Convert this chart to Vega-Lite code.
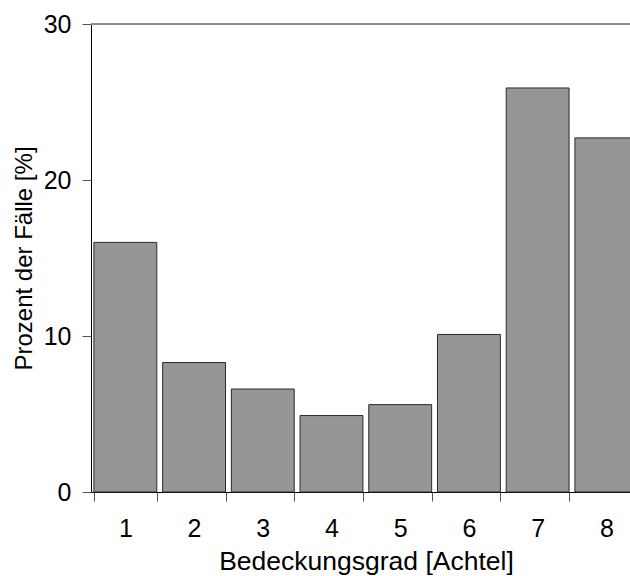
{
  "$schema": "https://vega.github.io/schema/vega-lite/v6.json",
  "width": 539,
  "height": 468,
  "autosize": "none",
  "padding": {"left": 91, "top": 24, "right": 0, "bottom": 84},
  "config": {
    "view": {"stroke": null},
    "font": "Liberation Sans",
    "axis": {
      "labelFont": "Liberation Sans",
      "titleFont": "Liberation Sans",
      "labelColor": "#000",
      "titleColor": "#000",
      "titleFontWeight": "normal",
      "labelFontSize": 25,
      "titleFontSize": 24,
      "domainColor": "#000",
      "tickColor": "#555",
      "tickSize": 9,
      "grid": false
    }
  },
  "data": {
    "values": [
      {"achtel": "1", "prozent": 16.0},
      {"achtel": "2", "prozent": 8.3},
      {"achtel": "3", "prozent": 6.6},
      {"achtel": "4", "prozent": 4.9},
      {"achtel": "5", "prozent": 5.6},
      {"achtel": "6", "prozent": 10.1},
      {"achtel": "7", "prozent": 25.9},
      {"achtel": "8", "prozent": 22.7}
    ]
  },
  "layer": [
    {
      "mark": {"type": "bar", "fill": "#969696", "stroke": "#2a2a2a", "strokeWidth": 1},
      "encoding": {
        "x": {
          "field": "achtel",
          "type": "ordinal",
          "scale": {"type": "band", "range": [0, 549.7], "paddingInner": 0.085, "paddingOuter": 0.0425},
          "axis": {
            "title": "Bedeckungsgrad [Achtel]",
            "titleFontSize": 26.5,
            "labelAngle": 0,
            "tickBand": "extent",
            "labelPadding": 15,
            "titlePadding": 7,
            "titleX": 275
          }
        },
        "y": {
          "field": "prozent",
          "type": "quantitative",
          "scale": {"domain": [0, 30], "nice": false},
          "axis": {
            "title": "Prozent der Fälle [%]",
            "values": [0, 10, 20, 30],
            "labelPadding": 11,
            "titlePadding": 7,
            "titleY": 234
          }
        }
      }
    },
    {
      "mark": {"type": "rule", "color": "#888", "strokeWidth": 1},
      "encoding": {"y": {"datum": 30}}
    }
  ]
}
